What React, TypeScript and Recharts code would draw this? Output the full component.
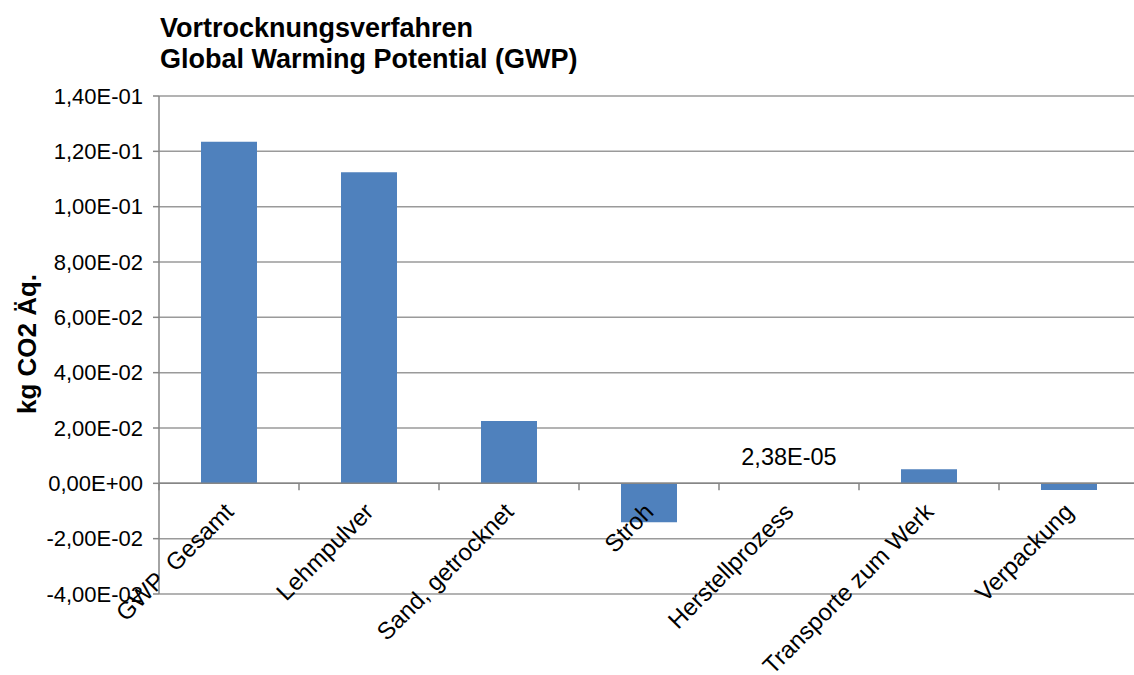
import { BarChart, Bar, XAxis, YAxis, CartesianGrid, ReferenceLine, LabelList } from 'recharts';

const categories = ['GWP  Gesamt', 'Lehmpulver', 'Sand, getrocknet', 'Stroh', 'Herstellprozess', 'Transporte zum Werk', 'Verpackung'];
const gwpValues = [0.1235, 0.1124, 0.0225, -0.0141, 0.0000238, 0.0051, -0.0024];
const shownLabels = [false, false, false, false, true, false, false];
const yTicks = [-0.04, -0.02, 0, 0.02, 0.04, 0.06, 0.08, 0.1, 0.12, 0.14];

const Y_MIN = -0.04;
const Y_MAX = 0.14;
const FONT = '"Liberation Sans", Arial, Helvetica, sans-serif';

const CHART_W = 1150;
const CHART_H = 675;
const MARGIN = { top: 96, right: 11, bottom: 51, left: 0 };
const Y_AXIS_W = 159;
const X_AXIS_H = 30;
const PLOT_H = CHART_H - MARGIN.top - MARGIN.bottom - X_AXIS_H;
const PLOT_W = CHART_W - MARGIN.left - MARGIN.right - Y_AXIS_W;
const BAND = PLOT_W / categories.length;
// distance from the bottom of the plot up to the zero line
const ZERO_SHIFT = (PLOT_H * (0 - Y_MIN)) / (Y_MAX - Y_MIN);

const data = categories.map((name, i) => ({
  name,
  value: gwpValues[i],
  label: shownLabels[i] ? gwpValues[i] : null,
}));

// Excel-style "1,40E-01"
function fmtExp(v: number) {
  if (v === 0) return '0,00E+00';
  const [m, e] = v.toExponential(2).split('e');
  const n = parseInt(e, 10);
  const sign = n < 0 ? '-' : '+';
  const ex = String(Math.abs(n)).padStart(2, '0');
  return m.replace('.', ',') + 'E' + sign + ex;
}

function CategoryTick(props: any) {
  const { x, y, payload, index } = props;
  const zeroY = y - ZERO_SHIFT;
  const left = x - BAND / 2;
  const right = x + BAND / 2;
  const tx = x + 6;
  const ty = zeroY + 30;
  return (
    <g>
      <line x1={left} x2={left} y1={zeroY} y2={zeroY + 7} stroke="#868686" strokeWidth={1.5} />
      {index === categories.length - 1 && (
        <line x1={right} x2={right} y1={zeroY} y2={zeroY + 7} stroke="#868686" strokeWidth={1.5} />
      )}
      <text
        x={tx}
        y={ty}
        textAnchor="end"
        transform={`rotate(-45 ${tx} ${ty})`}
        fontSize={24}
        fontFamily={FONT}
        fill="#000"
        style={{ whiteSpace: 'pre' }}
      >
        {payload.value}
      </text>
    </g>
  );
}

function ValueLabel(props: any) {
  const { x, y, width, value } = props;
  if (value === null || value === undefined) return null;
  return (
    <text x={x + width / 2} y={y - 18} textAnchor="middle" fontSize={23.5} fontFamily={FONT} fill="#000">
      {fmtExp(value)}
    </text>
  );
}

function AxisTitle() {
  const cx = 27;
  const cy = 344;
  return (
    <text
      x={cx}
      y={cy}
      textAnchor="middle"
      dominantBaseline="central"
      transform={`rotate(-90 ${cx} ${cy})`}
      fontSize={26}
      fontWeight="bold"
      fontFamily={FONT}
      fill="#000"
    >
      kg CO2 Äq.
    </text>
  );
}

export default function App() {
  return (
    <div
      style={{
        position: 'absolute',
        left: 0,
        top: 0,
        width: 1134,
        height: 675,
        overflow: 'hidden',
        background: '#fff',
        fontFamily: FONT,
      }}
    >
      <div
        style={{
          position: 'absolute',
          left: 160,
          top: 13,
          fontSize: 27,
          fontWeight: 'bold',
          lineHeight: '31px',
          color: '#000',
        }}
      >
        <div>Vortrocknungsverfahren</div>
        <div>Global Warming Potential (GWP)</div>
      </div>
      <BarChart width={CHART_W} height={CHART_H} data={data} margin={MARGIN} barCategoryGap="30%">
        <CartesianGrid vertical={false} stroke="#9a9a9a" strokeWidth={1.5} />
        <XAxis
          dataKey="name"
          height={X_AXIS_H}
          axisLine={false}
          tickLine={false}
          tickSize={0}
          tickMargin={0}
          interval={0}
          tick={<CategoryTick />}
        />
        <YAxis
          width={Y_AXIS_W}
          domain={[Y_MIN, Y_MAX]}
          ticks={yTicks}
          allowDataOverflow
          tickFormatter={fmtExp}
          tickSize={6}
          tickMargin={10}
          axisLine={{ stroke: '#868686', strokeWidth: 1.5 }}
          tickLine={{ stroke: '#868686', strokeWidth: 1.5 }}
          tick={{ fontSize: 22, fill: '#000', fontFamily: FONT }}
          label={<AxisTitle />}
        />
        <ReferenceLine y={0} stroke="#868686" strokeWidth={1.5} />
        <Bar dataKey="value" fill="#4f81bd" isAnimationActive={false}>
          <LabelList dataKey="label" content={<ValueLabel />} />
        </Bar>
      </BarChart>
    </div>
  );
}
